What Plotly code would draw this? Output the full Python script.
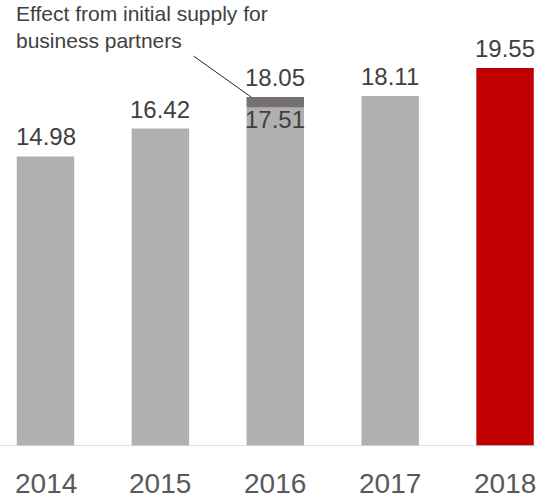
import plotly.graph_objects as go

# Sales by fiscal year (billions)
years = ["2014", "2015", "2016", "2017", "2018"]
base_values = [14.98, 16.42, 17.51, 18.11, 19.55]
# One-off effect of the initial supply for business partners (2016 only)
effect_values = [0, 0, 0.54, 0, 0]
total_labels = ["14.98", "16.42", "18.05", "18.11", "19.55"]
inner_labels = ["", "", "17.51", "", ""]
note_text = "Effect from initial supply for<br>business partners"

GRAY = "#b0b0b0"
RED = "#c00000"
DARK = "#767171"
TXT = "#404040"
YEAR_TXT = "#595959"
FONT = "Arial, Liberation Sans, sans-serif"

x = list(range(len(years)))
base_colors = [RED if y == "2018" else GRAY for y in years]
totals = [b + e for b, e in zip(base_values, effect_values)]

fig = go.Figure()
fig.add_trace(go.Bar(x=x, y=base_values, marker=dict(color=base_colors, line_width=0),
                     width=0.5, hoverinfo="skip"))
fig.add_trace(go.Bar(x=x, y=effect_values, base=base_values,
                     marker=dict(color=DARK, line_width=0),
                     width=0.5, hoverinfo="skip"))

annotations = []
# value labels above each bar
for i, (t, lab) in enumerate(zip(totals, total_labels)):
    annotations.append(dict(x=i, y=t, xref="x", yref="y", text=lab, showarrow=False,
                            yanchor="bottom", yshift=4,
                            font=dict(size=24, color=TXT, family=FONT)))
# label inside the 2016 bar, under the effect segment
for i, (b, lab) in enumerate(zip(base_values, inner_labels)):
    if lab:
        annotations.append(dict(x=i, y=b, xref="x", yref="y", text=lab, showarrow=False,
                                yanchor="top", yshift=3,
                                font=dict(size=24, color=TXT, family=FONT)))
# year labels under the axis
for i, yr in enumerate(years):
    annotations.append(dict(x=i, y=0, xref="x", yref="y", text=yr, showarrow=False,
                            yanchor="middle", yshift=-37,
                            font=dict(size=28, color=YEAR_TXT, family=FONT)))
# note and its leader line
annotations.append(dict(x=0.026, y=1.0, xref="paper", yref="paper", text=note_text,
                        showarrow=False, xanchor="left", yanchor="top", align="left",
                        font=dict(size=21, color=TXT, family=FONT)))
k = years.index("2016")
annotations.append(dict(x=k - 0.21, y=totals[k], xref="x", yref="y", text="",
                        showarrow=True, arrowhead=0, arrowwidth=1, arrowcolor="#262626",
                        ax=-59, ay=-42, standoff=0))

fig.update_layout(
    width=537, height=498,
    margin=dict(l=0, r=0, t=0, b=52),
    paper_bgcolor="white", plot_bgcolor="white",
    barmode="overlay", showlegend=False,
    xaxis=dict(visible=False, range=[-0.396, 4.278]),
    yaxis=dict(visible=False, range=[0, 23.07]),
    annotations=annotations,
    shapes=[dict(type="line", xref="paper", yref="y", x0=0, x1=1, y0=0, y1=0,
                 line=dict(color="#d9d9d9", width=1.5), layer="above")],
)

fig.write_html("out.html")
